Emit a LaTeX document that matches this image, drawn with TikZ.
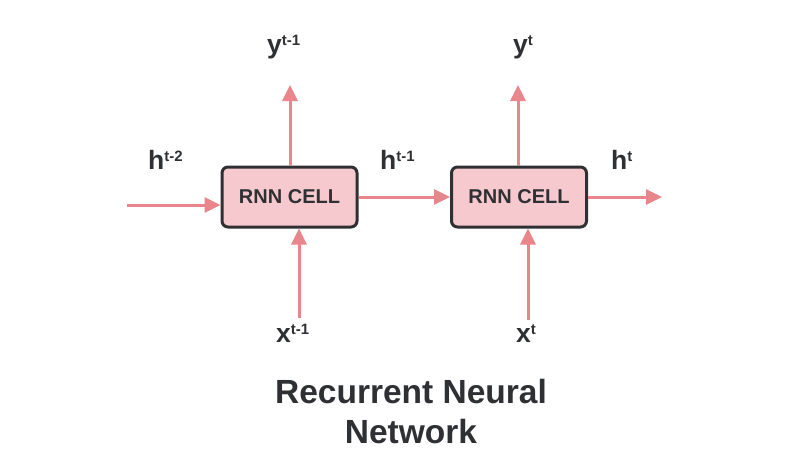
\documentclass[tikz,border=0pt]{standalone}
\usepackage{fontspec}
\setmainfont{Liberation Sans}
\usetikzlibrary{arrows.meta}
\definecolor{arr}{HTML}{E8868B}
\definecolor{boxfill}{HTML}{F5C9CD}
\definecolor{ink}{HTML}{2F3034}
\newcommand{\lbl}[2]{{\fontsize{26.5}{30}\selectfont\bfseries #1\raisebox{7.5pt}{\fontsize{15}{17}\selectfont\bfseries #2}}}
\begin{document}
\begin{tikzpicture}[x=1pt,y=-1pt,
  cell/.style={draw=ink,line width=3pt,fill=boxfill,rounded corners=6pt,minimum width=135pt,minimum height=60pt,inner sep=0pt,text=ink,font=\fontsize{20}{24}\selectfont\bfseries},
  conn/.style={draw=arr,line width=3pt,-{Triangle[length=16pt,width=15pt]}},
  lab/.style={anchor=base west,inner sep=0pt,text=ink},
  ttl/.style={anchor=base,inner sep=0pt,text=ink,font=\fontsize{33.5}{41}\selectfont\bfseries}]
\useasboundingbox (0,0) rectangle (800,450);
\node[cell] (c1) at (289.5,197) {RNN CELL};
\node[cell] (c2) at (519,197) {RNN CELL};
% free ends
\coordinate (in) at (127,205);
\coordinate (y1) at (290,85);
\coordinate (y2) at (518,85);
\coordinate (x1) at (299,318);
\coordinate (x2) at (528,320);
\coordinate (out) at (662,197);
\draw[conn] (in) -- (in -| c1.west);
\draw[conn] (c1.east) -- (c2.west);
\draw[conn] (c2.east) -- (out);
\draw[conn] (y1 |- c1.north) -- (y1);
\draw[conn] (y2 |- c2.north) -- (y2);
\draw[conn] (x1) -- (x1 |- c1.south);
\draw[conn] (x2) -- (x2 |- c2.south);
% labels
\node[lab] (ly1) at (267,53) {\lbl{y}{t-1}};
\node[lab] (ly2) at (513,53) {\lbl{y}{t}};
\node[lab] (lh0) at (148,169) {\lbl{h}{t-2}};
\node[lab] (lh1) at (380,169) {\lbl{h}{t-1}};
\node[lab] (lh2) at (611,169) {\lbl{h}{t}};
\node[lab] (lx1) at (276,342) {\lbl{x}{t-1}};
\node[lab] (lx2) at (516,342) {\lbl{x}{t}};
\node[ttl] (t1) at (411,403) {Recurrent Neural};
\node[ttl] (t2) at (411,443) {Network};
\end{tikzpicture}
\end{document}
